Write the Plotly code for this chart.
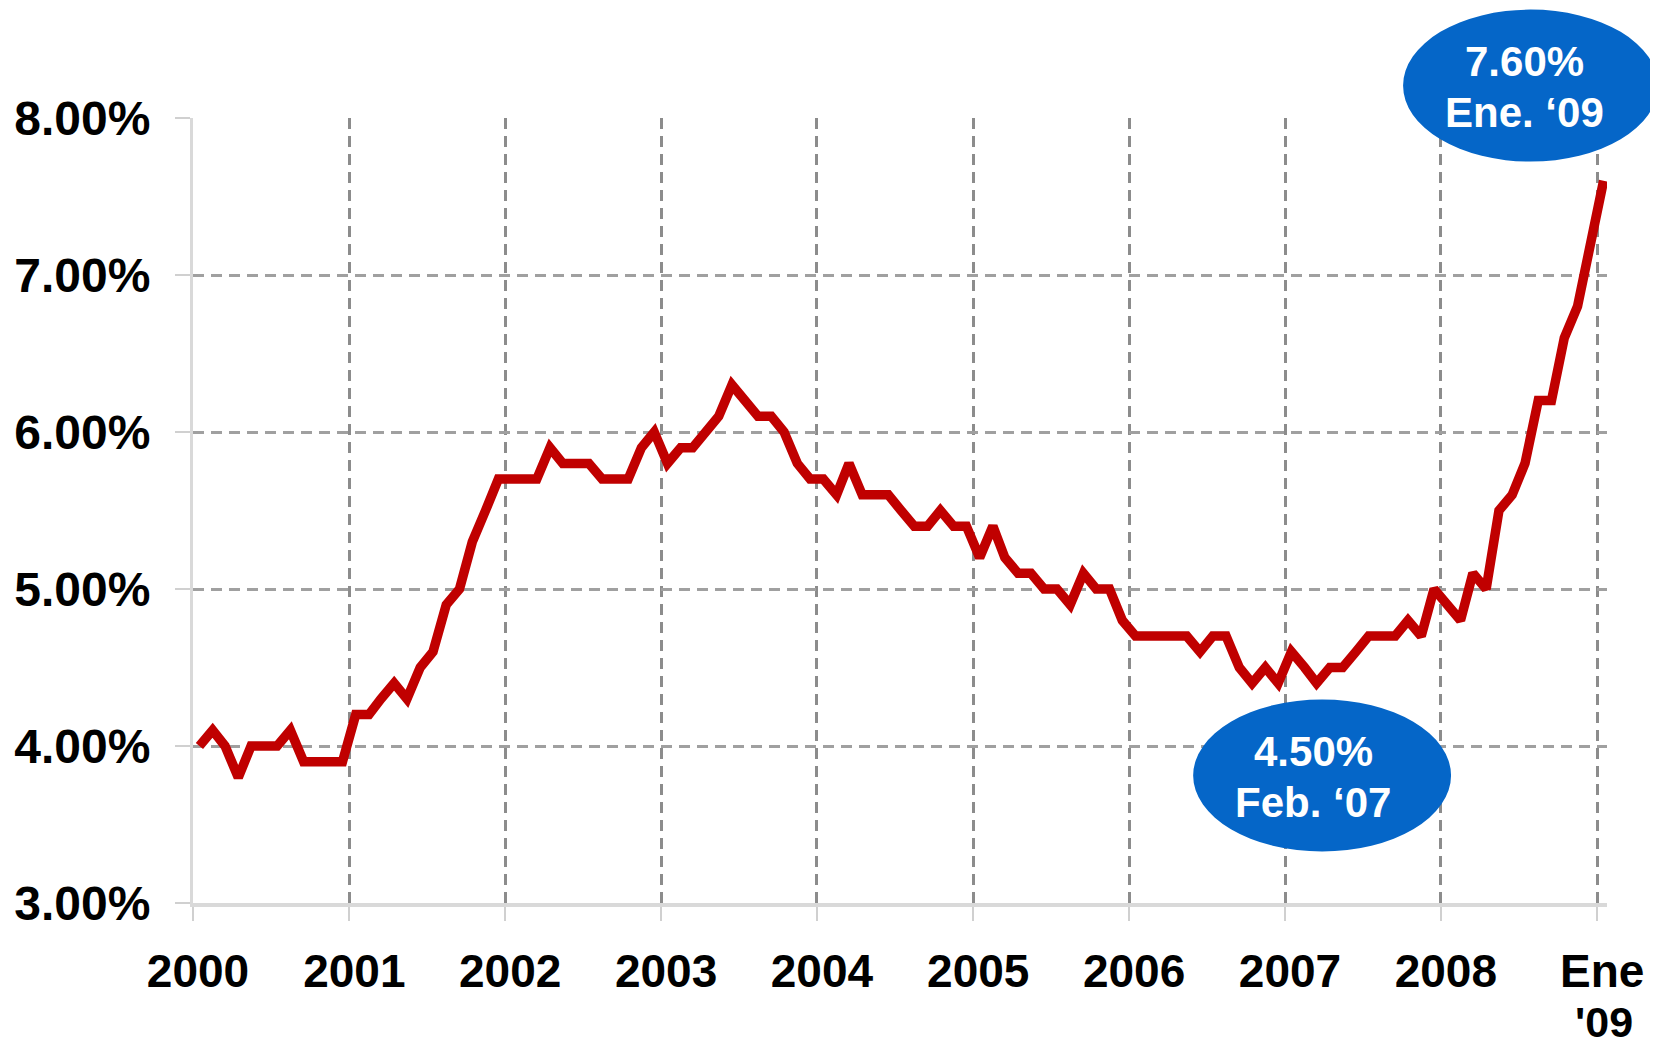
import pandas as pd
import plotly.graph_objects as go

# Monthly values (%), Jan 2000 .. Jan 2009
v2000 = [4.0, 4.1, 4.0, 3.8, 4.0, 4.0, 4.0, 4.1, 3.9, 3.9, 3.9, 3.9]
v2001 = [4.2, 4.2, 4.3, 4.4, 4.3, 4.5, 4.6, 4.9, 5.0, 5.3, 5.5, 5.7]
v2002 = [5.7, 5.7, 5.7, 5.9, 5.8, 5.8, 5.8, 5.7, 5.7, 5.7, 5.9, 6.0]
v2003 = [5.8, 5.9, 5.9, 6.0, 6.1, 6.3, 6.2, 6.1, 6.1, 6.0, 5.8, 5.7]
v2004 = [5.7, 5.6, 5.8, 5.6, 5.6, 5.6, 5.5, 5.4, 5.4, 5.5, 5.4, 5.4]
v2005 = [5.2, 5.4, 5.2, 5.1, 5.1, 5.0, 5.0, 4.9, 5.1, 5.0, 5.0, 4.8]
v2006 = [4.7, 4.7, 4.7, 4.7, 4.7, 4.6, 4.7, 4.7, 4.5, 4.4, 4.5, 4.4]
v2007 = [4.6, 4.5, 4.4, 4.5, 4.5, 4.6, 4.7, 4.7, 4.7, 4.8, 4.7, 5.0]
v2008 = [4.9, 4.8, 5.1, 5.0, 5.5, 5.6, 5.8, 6.2, 6.2, 6.6, 6.8, 7.2]
v2009 = [7.6]

values = v2000 + v2001 + v2002 + v2003 + v2004 + v2005 + v2006 + v2007 + v2008 + v2009
months = pd.date_range("2000-01-01", periods=len(values), freq="MS") + pd.Timedelta(days=15)

x_tick_vals = [f"{y}-01-01" for y in range(2000, 2010)]
x_tick_text = ["2000", "2001", "2002", "2003", "2004", "2005", "2006", "2007", "2008", "Ene"]
last_tick_second_line = "'09"
y_tick_vals = [3, 4, 5, 6, 7, 8]
y_tick_text = ["3.00%", "4.00%", "5.00%", "6.00%", "7.00%", "8.00%"]

callouts = [
    {"lines": ["7.60%", "Ene. \u201809"], "box": (1403, 10, 1658, 162), "centers": [(1524, 62), (1524, 113)]},
    {"lines": ["4.50%", "Feb. \u201807"], "box": (1193, 700, 1451, 852), "centers": [(1313, 752), (1313, 803)]},
]

# page offset of the figure (default body margin) and target page geometry
OFF = 8
W, H = 1650, 1039
L = 192.5 - OFF
T = 118.4 - OFF
Bpix = 903.5 - OFF
Rpix = 1607 - OFF
R, B = W - Rpix, H - Bpix
pw, ph = Rpix - L, Bpix - T

def px2paper(px, py):
    return (px - OFF - L) / pw, (Bpix - (py - OFF)) / ph

FONT = "Liberation Sans, Arial, sans-serif"

fig = go.Figure()
fig.add_trace(go.Scatter(
    x=months, y=values, mode="lines",
    line=dict(color="#C00000", width=9.5),
    hoverinfo="skip", showlegend=False,
))

for c in callouts:
    x0, y0 = px2paper(c["box"][0], c["box"][3])
    x1, y1 = px2paper(c["box"][2], c["box"][1])
    fig.add_shape(type="circle", xref="paper", yref="paper",
                  x0=x0, y0=y0, x1=x1, y1=y1,
                  fillcolor="#0566C8", line=dict(width=0), layer="above")
    for txt, ctr in zip(c["lines"], c["centers"]):
        cx, cy = px2paper(*ctr)
        fig.add_annotation(xref="paper", yref="paper", x=cx, y=cy,
                           text=txt, showarrow=False,
                           font=dict(family=FONT, size=42, color="white", weight="bold"),
                           xanchor="center", yanchor="middle")

# second line of the last x tick label
cx, cy = px2paper(1604, 1022.5)
fig.add_annotation(xref="paper", yref="paper", x=cx, y=cy, text=last_tick_second_line,
                   showarrow=False, xanchor="center", yanchor="middle", borderpad=0,
                   font=dict(family=FONT, size=43, color="black", weight="bold"))

fig.update_layout(
    width=W, height=H,
    margin=dict(l=L, r=R, t=T, b=B, pad=0, autoexpand=False),
    paper_bgcolor="white", plot_bgcolor="white",
    font=dict(family=FONT, color="black"),
)
fig.update_xaxes(
    type="date", range=["2000-01-01", "2009-01-24"], automargin=False,
    tickmode="array", tickvals=x_tick_vals, ticktext=x_tick_text,
    tickfont=dict(family=FONT, size=46, color="black", weight="bold"),
    showgrid=True, gridcolor="#8c8c8c", gridwidth=2.5, griddash="11px,7px",
    showline=True, linecolor="#d9d9d9", linewidth=4,
    ticks="outside", ticklen=14, tickcolor="#d0d0d0", tickwidth=2,
    ticklabelstandoff=11, ticklabelshift=5, zeroline=False,
)
fig.update_yaxes(
    range=[3, 8], automargin=False,
    tickmode="array", tickvals=y_tick_vals, ticktext=y_tick_text,
    tickfont=dict(family=FONT, size=48, color="black", weight="bold"),
    showgrid=True, gridcolor="#a0a0a0", gridwidth=2.5, griddash="11px,7px",
    showline=True, linecolor="#d9d9d9", linewidth=3,
    ticks="outside", ticklen=15, tickcolor="#d0d0d0", tickwidth=2,
    ticklabelstandoff=15, zeroline=False,
)

fig.write_html("out.html")
